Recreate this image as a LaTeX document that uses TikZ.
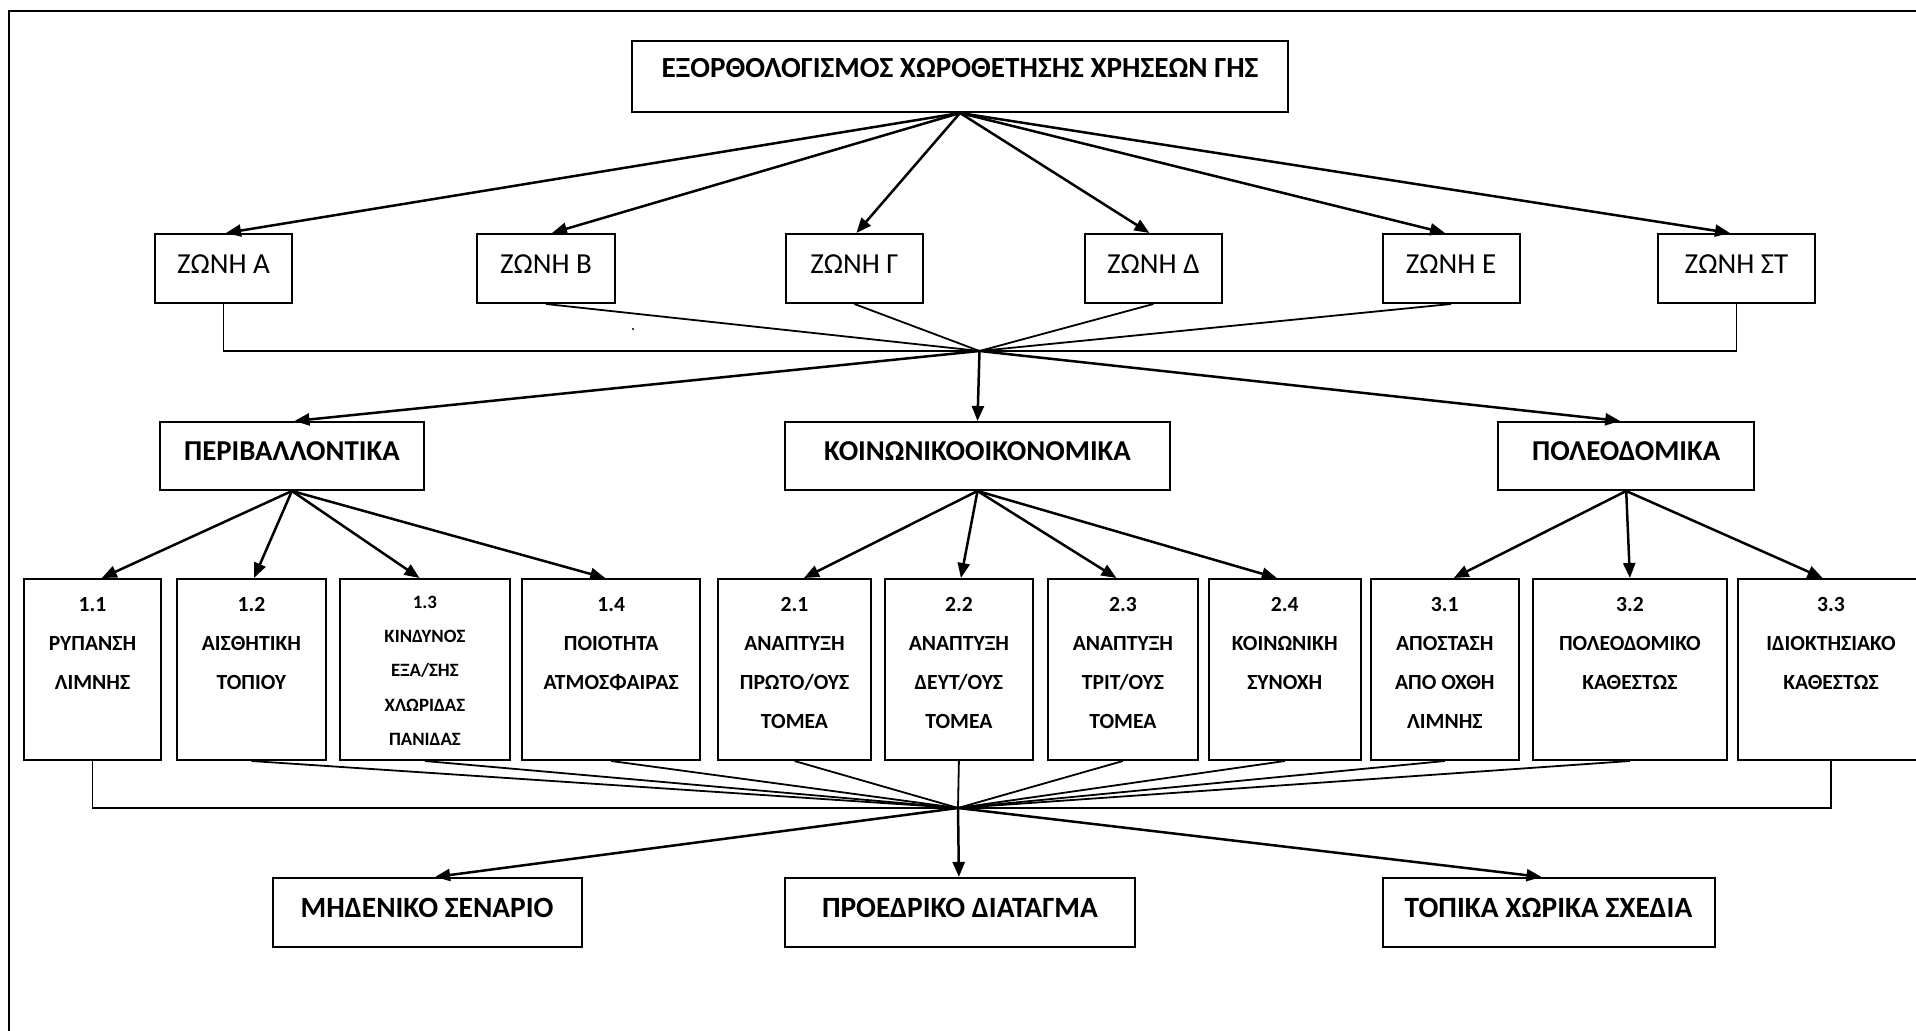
\documentclass[tikz,border=0pt]{standalone}
\usepackage{fontspec}
\setmainfont{Carlito}
\usetikzlibrary{arrows.meta}
% multi-line criterion text, top aligned inside a fixed-height box
\newcommand\critlines[2]{\parbox[c][90.5pt][t]{#1}{\centering\fontsize{10.8pt}{19.5pt}\selectfont\bfseries\rule{0pt}{16pt}#2}}
\newcommand\critlinessmall[2]{\parbox[c][90.5pt][t]{#1}{\centering\fontsize{9.4pt}{17.25pt}\selectfont\bfseries\rule{0pt}{14.5pt}#2}}
\begin{document}
\begin{tikzpicture}[x=0.5pt,y=-0.5pt,
  box/.style={draw,line width=1pt,inner sep=0pt},
  arr/.style={line width=1.25pt,-{Triangle[length=7.5pt,width=6pt]}},
  link/.style={line width=0.9pt},
  zone/.style={box,minimum width=68.5pt,minimum height=34.5pt,font=\fontsize{14.5pt}{16pt}\selectfont,text height=9.2pt,text depth=4.3pt},
  group/.style={box,minimum height=34pt,font=\fontsize{14.4pt}{16pt}\selectfont\bfseries,text height=9.1pt,text depth=4.7pt},
  crit/.style={box,minimum height=90.5pt},
  outcome/.style={box,minimum height=34.35pt,font=\fontsize{14.7pt}{16pt}\selectfont\bfseries,text height=9.3pt,text depth=4.3pt}]
\clip (0,0) rectangle (1916,1031);
% page frame
\draw[line width=1.2pt] (9,11) rectangle (1950,1060);

% goal
\node[box,minimum width=327.7pt,minimum height=35.5pt,font=\fontsize{14.6pt}{16pt}\selectfont\bfseries,text height=9.2pt,text depth=8.5pt] (goal) at (960,76.5) {ΕΞΟΡΘΟΛΟΓΙΣΜΟΣ ΧΩΡΟΘΕΤΗΣΗΣ ΧΡΗΣΕΩΝ ΓΗΣ\hspace{8pt}};

% zones
\node[zone] (zA) at (223.5,268.5) {ΖΩΝΗ Α};
\node[zone,minimum width=69pt] (zB) at (546,268.5) {ΖΩΝΗ Β};
\node[zone] (zG) at (854.4,268.5) {ΖΩΝΗ Γ};
\node[zone] (zD) at (1153.4,268.5) {ΖΩΝΗ Δ};
\node[zone] (zE) at (1451,268.5) {ΖΩΝΗ Ε};
\node[zone,minimum width=78.5pt] (zST) at (1736.5,268.5) {ΖΩΝΗ ΣΤ};

% groups of criteria
\node[group,minimum width=131.85pt] (env) at (291.9,456) {ΠΕΡΙΒΑΛΛΟΝΤΙΚΑ};
\node[group,minimum width=192.5pt] (soc) at (977.5,456) {ΚΟΙΝΩΝΙΚΟΟΙΚΟΝΟΜΙΚΑ};
\node[group,minimum width=127.8pt] (urb) at (1626.2,456) {ΠΟΛΕΟΔΟΜΙΚΑ};

% criteria
\node[crit,minimum width=68.5pt] (b11) at (92.5,669.5) {\critlines{67.5pt}{1.1\\ΡΥΠΑΝΣΗ\\ΛΙΜΝΗΣ}};
\node[crit,minimum width=74.6pt] (b12) at (251.4,669.5) {\critlines{73.6pt}{1.2\\ΑΙΣΘΗΤΙΚΗ\\ΤΟΠΙΟΥ}};
\node[crit,minimum width=85.15pt] (b13) at (424.9,669.5) {\critlinessmall{84pt}{1.3\\ΚΙΝΔΥΝΟΣ\\ΕΞΑ/ΣΗΣ\\ΧΛΩΡΙΔΑΣ\\ΠΑΝΙΔΑΣ}};
\node[crit,minimum width=89.2pt] (b14) at (611.2,669.5) {\critlines{88pt}{1.4\\ΠΟΙΟΤΗΤΑ\\ΑΤΜΟΣΦΑΙΡΑΣ}};
\node[crit,minimum width=76.55pt] (b21) at (794.5,669.5) {\critlines{75.5pt}{2.1\\ΑΝΑΠΤΥΞΗ\\ΠΡΩΤΟ/ΟΥΣ\\ΤΟΜΕΑ}};
\node[crit,minimum width=74.1pt] (b22) at (958.9,669.5) {\critlines{73pt}{2.2\\ΑΝΑΠΤΥΞΗ\\ΔΕΥΤ/ΟΥΣ\\ΤΟΜΕΑ}};
\node[crit,minimum width=75.1pt] (b23) at (1122.9,669.5) {\critlines{74pt}{2.3\\ΑΝΑΠΤΥΞΗ\\ΤΡΙΤ/ΟΥΣ\\ΤΟΜΕΑ}};
\node[crit,minimum width=76.25pt] (b24) at (1284.8,669.5) {\critlines{75pt}{2.4\\ΚΟΙΝΩΝΙΚΗ\\ΣΥΝΟΧΗ}};
\node[crit,minimum width=74.1pt] (b31) at (1444.8,669.5) {\critlines{73pt}{3.1\\ΑΠΟΣΤΑΣΗ\\ΑΠΟ ΟΧΘΗ\\ΛΙΜΝΗΣ}};
\node[crit,minimum width=96.85pt] (b32) at (1629.9,669.5) {\critlines{95.5pt}{3.2\\ΠΟΛΕΟΔΟΜΙΚΟ\\ΚΑΘΕΣΤΩΣ}};
\node[crit,minimum width=93pt] (b33) at (1831,669.5) {\critlines{92pt}{3.3\\ΙΔΙΟΚΤΗΣΙΑΚΟ\\ΚΑΘΕΣΤΩΣ}};

% outcomes
\node[outcome,minimum width=154.6pt] (o1) at (427.1,912.3) {ΜΗΔΕΝΙΚΟ ΣΕΝΑΡΙΟ};
\node[outcome,minimum width=174.9pt] (o2) at (959.9,912.3) {ΠΡΟΕΔΡΙΚΟ ΔΙΑΤΑΓΜΑ};
\node[outcome,minimum width=166pt] (o3) at (1548.5,912.3) {ΤΟΠΙΚΑ ΧΩΡΙΚΑ ΣΧΕΔΙΑ};

% goal to zones
\draw[arr] (goal.south) -- ([xshift=1.25pt]zA.north);
\draw[arr] (goal.south) -- ([xshift=3pt]zB.north);
\draw[arr] (goal.south) -- ([xshift=1pt]zG.north);
\draw[arr] (goal.south) -- ([xshift=-2pt]zD.north);
\draw[arr] (goal.south) -- ([xshift=-3pt]zE.north);
\draw[arr] (goal.south) -- ([xshift=-3.25pt]zST.north);

% zones gathered into one point
\coordinate (jz) at (979.5,351);
\draw[link] (zA.south) |- (jz) -| (zST.south);
\foreach \z in {zB,zG,zD,zE} \draw[link] (\z.south) -- (jz);
\fill (633,329) circle[radius=0.6pt];

% point to groups
\draw[arr] (jz) -- ([xshift=1.3pt]env.north);
\draw[arr] (jz) -- (soc.north);
\draw[arr] (jz) -- ([xshift=-3pt]urb.north);

% groups to criteria
\draw[arr] (env.south) -- ([xshift=4.65pt]b11.north);
\draw[arr] (env.south) -- ([xshift=1.3pt]b12.north);
\draw[arr] (env.south) -- ([xshift=-2.7pt]b13.north);
\draw[arr] (env.south) -- ([xshift=-3pt]b14.north);
\draw[arr] (soc.south) -- ([xshift=4.75pt]b21.north);
\draw[arr] (soc.south) -- ([xshift=1pt]b22.north);
\draw[arr] (soc.south) -- ([xshift=-3.25pt]b23.north);
\draw[arr] (soc.south) -- ([xshift=-4pt]b24.north);
\draw[arr] (urb.south) -- ([xshift=4.5pt]b31.north);
\draw[arr] (urb.south) -- (b32.north);
\draw[arr] (urb.south) -- ([xshift=-4.2pt]b33.north);

% criteria gathered into one point
\coordinate (jb) at (958,808);
\draw[link] (b11.south) |- (jb) -| (b33.south);
\foreach \b in {b12,b13,b14,b21,b22,b23,b24,b31,b32} \draw[link] (\b.south) -- (jb);

% point to outcomes
\draw[arr] (jb) -- ([xshift=4pt]o1.north);
\draw[arr] (jb) -- ([xshift=-0.5pt]o2.north);
\draw[arr] (jb) -- ([xshift=-3.5pt]o3.north);
\end{tikzpicture}
\end{document}
